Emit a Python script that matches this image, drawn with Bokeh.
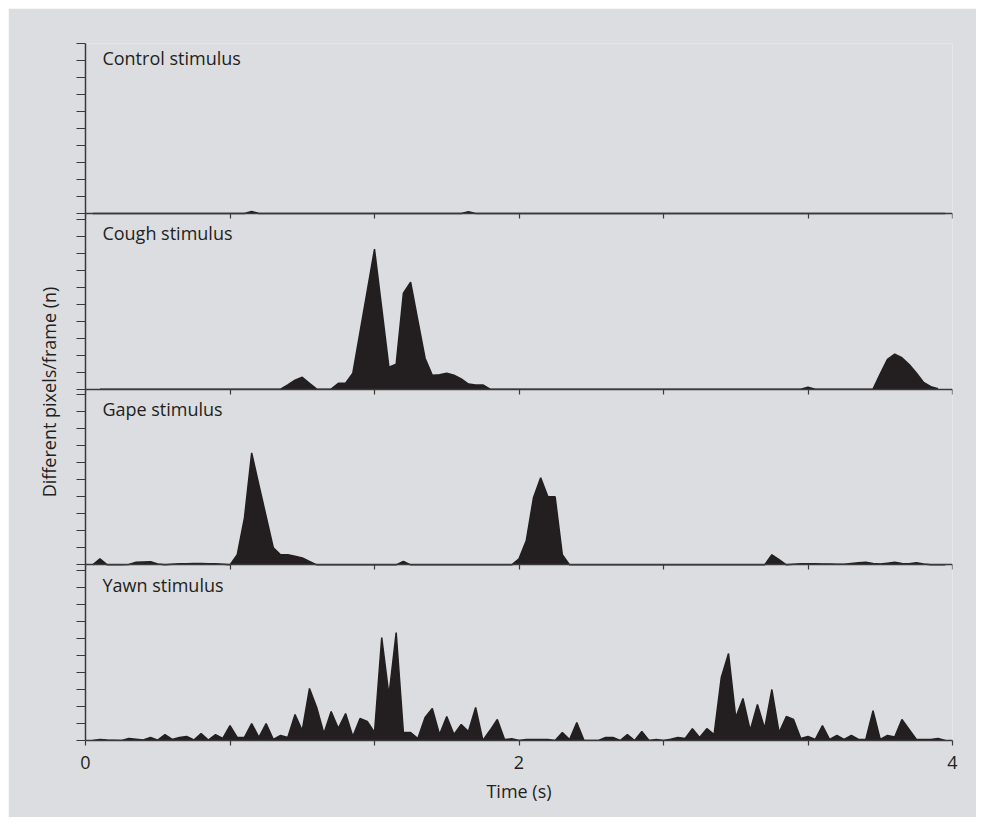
from bokeh.plotting import figure
from bokeh.models import Range1d, FixedTicker, LinearAxis, ColumnDataSource, CustomJSTickFormatter
from bokeh.embed import file_html
from bokeh.resources import INLINE
from bokeh.core.properties import value

FPS = 30  # frames per second of the recordings

panel_titles = ["Control stimulus", "Cough stimulus", "Gape stimulus", "Yawn stimulus"]
y_label = "Different pixels/frame (n)"
x_label = "Time (s)"

# values are in y-tick units (10 ticks per panel), one value per video frame
control_start = 1
control = [
    0, 0, 0, 0, 0, 0, 0, 0, 0, 0,
    0, 0, 0, 0, 0, 0, 0, 0, 0, 0,
    0, 0, 0.12, 0, 0, 0, 0, 0, 0, 0,
    0, 0, 0, 0, 0, 0, 0, 0, 0, 0,
    0, 0, 0, 0, 0, 0, 0, 0, 0, 0,
    0, 0, 0.1, 0, 0, 0, 0, 0, 0, 0,
    0, 0, 0, 0, 0, 0, 0, 0, 0, 0,
    0, 0, 0, 0, 0, 0, 0, 0, 0, 0,
    0, 0, 0, 0, 0, 0, 0, 0, 0, 0,
    0, 0, 0, 0, 0, 0, 0, 0, 0, 0,
    0, 0, 0, 0, 0, 0, 0, 0, 0, 0,
    0, 0, 0, 0, 0, 0, 0, 0, 0,
]

cough_start = 2
cough = [
    0, 0, 0, 0, 0, 0, 0, 0, 0, 0,            # 2-11
    0, 0, 0, 0, 0, 0, 0, 0, 0, 0,            # 12-21
    0, 0, 0, 0, 0, 0, 0.25, 0.53, 0.7, 0.35,  # 22-31
    0, 0, 0, 0.35, 0.35, 0.94, 3.37, 5.8, 8.24, 4.77,  # 32-41
    1.29, 1.47, 5.65, 6.29, 4.05, 1.82, 0.82, 0.85, 0.94, 0.82,  # 42-51
    0.6, 0.3, 0.25, 0.25, 0, 0, 0, 0, 0, 0,  # 52-61
    0, 0, 0, 0, 0, 0, 0, 0, 0, 0,            # 62-71
    0, 0, 0, 0, 0, 0, 0, 0, 0, 0,            # 72-81
    0, 0, 0, 0, 0, 0, 0, 0, 0, 0,            # 82-91
    0, 0, 0, 0, 0, 0, 0, 0, 0.12, 0,         # 92-101
    0, 0, 0, 0, 0, 0, 0, 0, 0.9, 1.76,       # 102-111
    2.06, 1.85, 1.45, 0.95, 0.4, 0.15, 0.03,  # 112-118
]

gape_start = 1
gape = [
    0, 0.35, 0, 0, 0, 0.02, 0.15, 0.17, 0.18, 0.05,   # 1-10
    0, 0.03, 0.06, 0.07, 0.08, 0.08, 0.07, 0.06, 0.03, 0,  # 11-20
    0.59, 2.76, 6.59, 4.7, 2.85, 1.0, 0.59, 0.59, 0.5, 0.41,  # 21-30
    0.2, 0, 0, 0, 0, 0, 0, 0, 0, 0,          # 31-40
    0, 0, 0, 0.2, 0, 0, 0, 0, 0, 0,          # 41-50
    0, 0, 0, 0, 0, 0, 0, 0, 0, 0.35,         # 51-60
    1.41, 3.94, 5.12, 4.0, 4.0, 0.59, 0, 0, 0, 0,  # 61-70
    0, 0, 0, 0, 0, 0, 0, 0, 0, 0,            # 71-80
    0, 0, 0, 0, 0, 0, 0, 0, 0, 0,            # 81-90
    0, 0, 0, 0, 0.59, 0.3, 0, 0.03, 0.06, 0.06,  # 91-100
    0.06, 0.05, 0.05, 0.04, 0.04, 0.08, 0.12, 0.15, 0.08, 0.05,  # 101-110
    0.1, 0.15, 0.08, 0.06, 0.12, 0.05, 0, 0, 0,  # 111-119
]

yawn_start = 1
yawn = [
    0, 0.06, 0.03, 0.02, 0, 0.12, 0.08, 0.03, 0.18, 0.02,     # 1-10
    0.35, 0.06, 0.18, 0.24, 0.03, 0.41, 0.03, 0.35, 0.12, 0.88,  # 11-20
    0.18, 0.18, 1.0, 0.18, 1.0, 0.06, 0.3, 0.18, 1.53, 0.59,  # 21-30
    3.06, 1.94, 0.41, 1.71, 0.71, 1.59, 0.24, 1.29, 1.12, 0.47,  # 31-40
    6.06, 2.65, 6.35, 0.47, 0.47, 0.12, 1.35, 1.88, 0.35, 1.41,  # 41-50
    0.35, 0.94, 0.53, 1.94, 0, 0.6, 1.24, 0.06, 0.1, 0,  # 51-60
    0.06, 0.06, 0.06, 0.06, 0, 0.47, 0.06, 1.06, 0, 0,  # 61-70
    0, 0.18, 0.18, 0, 0.35, 0, 0.53, 0, 0.06, 0,  # 71-80
    0.08, 0.18, 0.12, 0.7, 0.18, 0.7, 0.35, 3.71, 5.12, 1.35,  # 81-90
    2.47, 0.59, 2.12, 0.71, 3.0, 0.47, 1.41, 1.24, 0.12, 0.24,  # 91-100
    0.06, 0.88, 0.06, 0.3, 0.06, 0.3, 0.06, 0.06, 1.76, 0.06,  # 101-110
    0.3, 0.2, 1.24, 0.65, 0.06, 0.06, 0.06, 0.12, 0,  # 111-119
]

x_major_ticks = [0, 2, 4]
x_minor_ticks = [2 / 3, 4 / 3, 8 / 3, 10 / 3]
panel_ticks = list(range(11))

# layout constants
PANEL = 10
GAP = 1 / 3
PITCH = PANEL + GAP
FONT = "Open Sans"
FS = "18px"
BG = "#dcdde0"
INK = "#231f20"
AXIS = "#3a3a3a"

series = [(control_start, control), (cough_start, cough), (gape_start, gape), (yawn_start, yawn)]
bases = [(3 - k) * PITCH for k in range(4)]

p = figure(width=968, height=809, x_range=Range1d(0, 4), y_range=Range1d(0, 3 * PITCH + PANEL),
           output_backend="svg", toolbar_location=None,
           min_border_left=77, min_border_right=24, min_border_top=35, min_border_bottom=77)
p.margin = (8, 8, 8, 8)
p.background_fill_color = BG
p.border_fill_color = BG
p.outline_line_color = None
p.xgrid.visible = False
p.ygrid.visible = False

for (start, vals), base in zip(series, bases):
    t = [(start + i) / FPS for i in range(len(vals))]
    src = ColumnDataSource(dict(t=t, y0=[base] * len(vals), y=[base + v for v in vals]))
    p.varea(x="t", y1="y0", y2="y", source=src, fill_color=INK)
    p.line(x="t", y="y", source=src, line_color=INK, line_width=1.5)

blank = CustomJSTickFormatter(code="return ''")


def style_x(ax, labels):
    ax.ticker = FixedTicker(ticks=x_major_ticks, minor_ticks=x_minor_ticks)
    ax.axis_line_color = AXIS
    ax.axis_line_width = 1.5
    ax.major_tick_line_color = AXIS
    ax.minor_tick_line_color = AXIS
    ax.major_tick_line_width = 1.2
    ax.minor_tick_line_width = 1.2
    ax.major_tick_out = 5
    ax.major_tick_in = 0
    ax.minor_tick_out = 5
    ax.minor_tick_in = 0
    if labels:
        ax.major_label_text_font = FONT
        ax.major_label_text_font_size = FS
        ax.major_label_text_color = INK
        ax.major_label_standoff = 10
    else:
        ax.formatter = blank
        ax.major_label_text_color = None


xa = p.xaxis[0]
style_x(xa, True)
xa.axis_label = x_label
xa.axis_label_text_font = FONT
xa.axis_label_text_font_size = FS
xa.axis_label_text_font_style = "normal"
xa.axis_label_text_color = INK
xa.axis_label_standoff = 7

for base in bases[:3]:
    ax = LinearAxis(fixed_location=base)
    style_x(ax, False)
    p.add_layout(ax, "below")

ya = p.yaxis[0]
ya.ticker = FixedTicker(ticks=[b + j for b in bases for j in panel_ticks])
ya.formatter = blank
ya.axis_line_color = AXIS
ya.axis_line_width = 1.5
ya.major_tick_line_color = AXIS
ya.major_tick_line_width = 1.2
ya.major_tick_out = 9
ya.major_tick_in = 0
ya.minor_tick_out = 0
ya.minor_tick_in = 0
ya.major_label_text_color = None
ya.major_label_standoff = 0
ya.axis_label = y_label
ya.axis_label_text_font = FONT
ya.axis_label_text_font_size = FS
ya.axis_label_text_font_style = "normal"
ya.axis_label_text_color = INK
ya.axis_label_standoff = 16

title_x = [0.078] * 4
title_y = [b + PANEL - 0.83 for b in bases]
p.text(x=title_x, y=title_y, text=panel_titles, text_font=value(FONT), text_font_size=value(FS),
       text_color=INK, text_baseline="alphabetic", text_align="left")

open("out.html", "w").write(file_html(p, INLINE))
